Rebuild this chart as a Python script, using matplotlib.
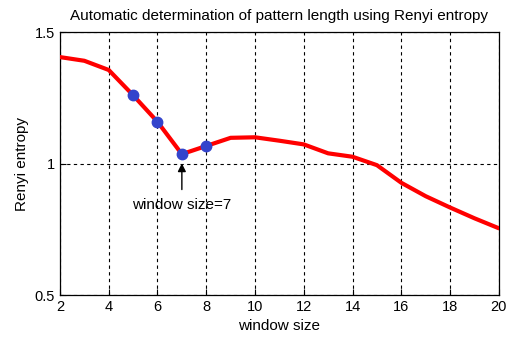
import matplotlib
matplotlib.use("Agg")
import matplotlib.pyplot as plt

plt.rcParams['font.family'] = ['Liberation Sans', 'DejaVu Sans']

window_size = [2, 3, 4, 5, 6, 7, 8, 9, 10, 11, 12, 13, 14, 15, 16, 17, 18, 19, 20]
renyi_entropy = [1.405, 1.391, 1.356, 1.260, 1.159, 1.036, 1.067, 1.098, 1.100,
                 1.087, 1.073, 1.039, 1.026, 0.994, 0.927, 0.876, 0.833, 0.792, 0.754]
marked_sizes = [5, 6, 7, 8]
best_size = 7
x_ticks = [2, 4, 6, 8, 10, 12, 14, 16, 18, 20]
y_ticks = [0.5, 1, 1.5]
y_ticklabels = ['0.5', '1', '1.5']

fig = plt.figure(figsize=(5.08, 3.38), dpi=100)
ax = fig.add_axes([0.118, 0.127, 0.864, 0.778])

ax.plot(window_size, renyi_entropy, color='#ff0000', lw=3.0, solid_capstyle='round', zorder=3)
marked_vals = [renyi_entropy[window_size.index(s)] for s in marked_sizes]
ax.plot(marked_sizes, marked_vals, 'o', color='#3344cc', ms=7.5, mec='#3344cc', zorder=4)

best_val = renyi_entropy[window_size.index(best_size)]
ax.annotate('window size=7', xy=(best_size, best_val - 0.035), xytext=(best_size, 0.843),
            ha='center', va='center', fontsize=11,
            arrowprops=dict(arrowstyle='-|>', color='black', lw=1.0, mutation_scale=12,
                            shrinkA=4, shrinkB=0))

ax.set_xlim(2, 20)
ax.set_ylim(0.5, 1.5)
ax.set_xticks(x_ticks)
ax.set_yticks(y_ticks)
ax.set_yticklabels(y_ticklabels)
ax.grid(True, color='black', linestyle=(0, (3, 3)), linewidth=0.8)
ax.tick_params(direction='in', length=4, labelsize=10.5, width=0.8)
for s in ax.spines.values():
    s.set_linewidth(0.9)

ax.set_title('Automatic determination of pattern length using Renyi entropy', fontsize=11, pad=9)
ax.set_xlabel('window size', fontsize=11, labelpad=4)
ax.set_ylabel('Renyi entropy', fontsize=11)

fig.savefig('out.png', dpi=100)
